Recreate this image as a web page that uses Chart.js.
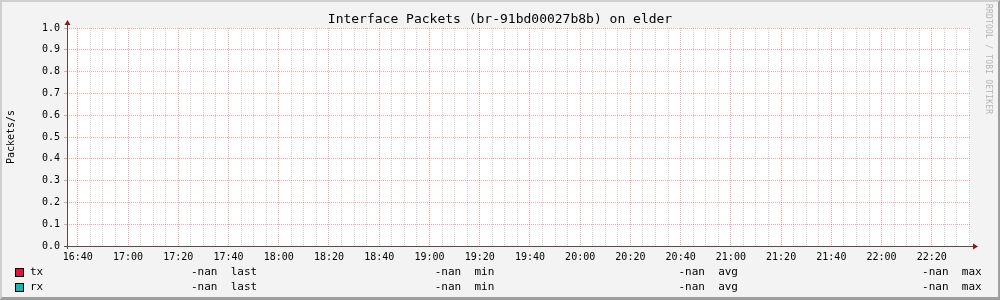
<!DOCTYPE html>
<html>
<head>
<meta charset="utf-8">
<script src="https://cdn.jsdelivr.net/npm/chart.js@4/dist/chart.umd.min.js"></script>
<style>
  html, body { margin: 0; padding: 0; background: #f3f3f3; }
  #wrap { position: relative; width: 1000px; height: 300px; overflow: hidden; background: #f3f3f3;
          font-family: 'DejaVu Sans Mono', monospace; color: #000; }
  #chart { position: absolute; left: 0; top: 0; }
  #frame { position: absolute; left: 0; top: 0; width: 1000px; height: 300px; box-sizing: border-box;
           border-top: 2px solid #cfcfcf; border-left: 2px solid #cfcfcf;
           border-right: 2px solid #9e9e9e; border-bottom: 3px solid #9e9e9e; pointer-events: none; }
  #title { position: absolute; left: 0; width: 1000px; top: 11px; text-align: center; font-size: 13px; }
  #mark { position: absolute; left: 984px; top: 4px; font-size: 8px; color: #b4b4b4;
          writing-mode: vertical-rl; letter-spacing: 0.2px; }
  .row { position: absolute; left: 0; font-size: 11px; white-space: pre; }
  .sw { position: absolute; left: 15px; width: 7px; height: 7px; border: 1px solid #000; }
  .nm { position: absolute; left: 30px; }
  .col { position: absolute; }
</style>
</head>
<body>
<div id="wrap">
  <canvas id="chart" width="1000" height="300"></canvas>
  <div id="title">Interface Packets (br-91bd00027b8b) on elder</div>
  <div id="mark">RRDTOOL / TOBI OETIKER</div>
  <div id="legend"></div>
  <div id="frame"></div>
</div>
<script>
// time axis: minutes after 16:40, labels every 20 minutes
const timeLabels = ['16:40', '17:00', '17:20', '17:40', '18:00', '18:20', '18:40', '19:00', '19:20',
  '19:40', '20:00', '20:20', '20:40', '21:00', '21:20', '21:40', '22:00', '22:20'];
const yTicks = [0.0, 0.1, 0.2, 0.3, 0.4, 0.5, 0.6, 0.7, 0.8, 0.9, 1.0];

// no data in the rrd, every sample is nan
const txValues = timeLabels.map(() => NaN);
const rxValues = timeLabels.map(() => NaN);

const seriesNames = ['tx', 'rx'];
const seriesColors = ['#dc143c', '#20b2aa'];
const statNames = ['last', 'min', 'avg', 'max'];
const txStats = ['-nan', '-nan', '-nan', '-nan'];
const rxStats = ['-nan', '-nan', '-nan', '-nan'];

const xMin = -4.3, xMax = 355.2;
const majorGrid = 'rgba(255, 0, 0, 0.36)';
const minorGrid = 'rgba(128, 128, 128, 0.36)';
const axisColor = '#5a4a4a';
const arrowColor = '#8a1a1a';

// legend rows as real text
const legend = document.getElementById('legend');
[txStats, rxStats].forEach((stats, i) => {
  const top = 267 + i * 15;
  const sw = document.createElement('div');
  sw.className = 'sw';
  sw.style.top = (top + 1) + 'px';
  sw.style.background = seriesColors[i];
  legend.appendChild(sw);
  const nm = document.createElement('div');
  nm.className = 'row nm';
  nm.style.top = (top - 2) + 'px';
  nm.textContent = seriesNames[i];
  legend.appendChild(nm);
  stats.forEach((s, j) => {
    const c = document.createElement('div');
    c.className = 'row col';
    c.style.top = (top - 2) + 'px';
    c.style.left = (191 + j * 243.7) + 'px';
    c.textContent = s + '  ' + statNames[j];
    legend.appendChild(c);
  });
});

const plotBg = {
  id: 'plotBg',
  beforeDraw(chart) {
    const { ctx, chartArea: a } = chart;
    ctx.save();
    ctx.fillStyle = '#ffffff';
    ctx.fillRect(a.left, a.top, a.right - a.left, a.bottom - a.top);
    ctx.restore();
  },
  afterDraw(chart) {
    const { ctx, chartArea: a } = chart;
    ctx.save();
    ctx.strokeStyle = axisColor;
    ctx.lineWidth = 1;
    ctx.beginPath();
    ctx.moveTo(a.left + 0.5, a.bottom + 3);
    ctx.lineTo(a.left + 0.5, a.top - 5);
    ctx.moveTo(a.left - 3, a.bottom + 0.5);
    ctx.lineTo(a.right + 4, a.bottom + 0.5);
    ctx.stroke();
    ctx.fillStyle = arrowColor;
    ctx.beginPath();
    ctx.moveTo(a.left + 0.5, a.top - 8);
    ctx.lineTo(a.left - 2.5, a.top - 3);
    ctx.lineTo(a.left + 3.5, a.top - 3);
    ctx.closePath();
    ctx.fill();
    ctx.beginPath();
    ctx.moveTo(a.right + 8, a.bottom + 0.5);
    ctx.lineTo(a.right + 3, a.bottom - 2.5);
    ctx.lineTo(a.right + 3, a.bottom + 3.5);
    ctx.closePath();
    ctx.fill();
    ctx.restore();
  }
};

new Chart(document.getElementById('chart'), {
  type: 'line',
  data: {
    datasets: [
      { label: seriesNames[0], data: txValues.map((v, i) => ({ x: i * 20, y: v })),
        borderColor: seriesColors[0], pointRadius: 0, borderWidth: 1 },
      { label: seriesNames[1], data: rxValues.map((v, i) => ({ x: i * 20, y: v })),
        borderColor: seriesColors[1], pointRadius: 0, borderWidth: 1 },
    ],
  },
  options: {
    responsive: false,
    animation: false,
    events: [],
    layout: { padding: { top: 28, right: 30, left: 0, bottom: 0 } },
    plugins: { legend: { display: false }, title: { display: false }, tooltip: { enabled: false } },
    scales: {
      x: {
        type: 'linear',
        min: xMin,
        max: xMax,
        afterFit(scale) { scale.height = 54; },
        afterBuildTicks(scale) {
          const t = [];
          for (let m = 0; m <= xMax; m += 5) t.push({ value: m });
          scale.ticks = t;
        },
        ticks: {
          autoSkip: false,
          maxRotation: 0,
          padding: 5,
          color: '#000',
          font: { family: 'DejaVu Sans Mono', size: 10 },
          callback: (v) => (v % 20 === 0 ? timeLabels[v / 20] : ''),
        },
        grid: {
          drawTicks: false,
          lineWidth: 1,
          color: (c) => (c.tick && c.tick.value % 20 === 0 ? majorGrid : minorGrid),
        },
        border: { display: false, dash: [1, 1] },
      },
      y: {
        min: 0,
        max: 1,
        afterFit(scale) { scale.width = 67; },
        afterBuildTicks(scale) { scale.ticks = yTicks.map((v) => ({ value: v })); },
        title: { display: true, text: 'Packets/s', color: '#000', padding: { top: 5, bottom: 0 },
                 font: { family: 'DejaVu Sans Mono', size: 10 } },
        ticks: {
          padding: 4,
          color: '#000',
          font: { family: 'DejaVu Sans Mono', size: 10 },
          callback: (v) => v.toFixed(1),
        },
        grid: { color: majorGrid, tickLength: 3, tickColor: majorGrid },
        border: { display: false, dash: [1, 1] },
      },
    },
  },
  plugins: [plotBg],
});
</script>
</body>
</html>
